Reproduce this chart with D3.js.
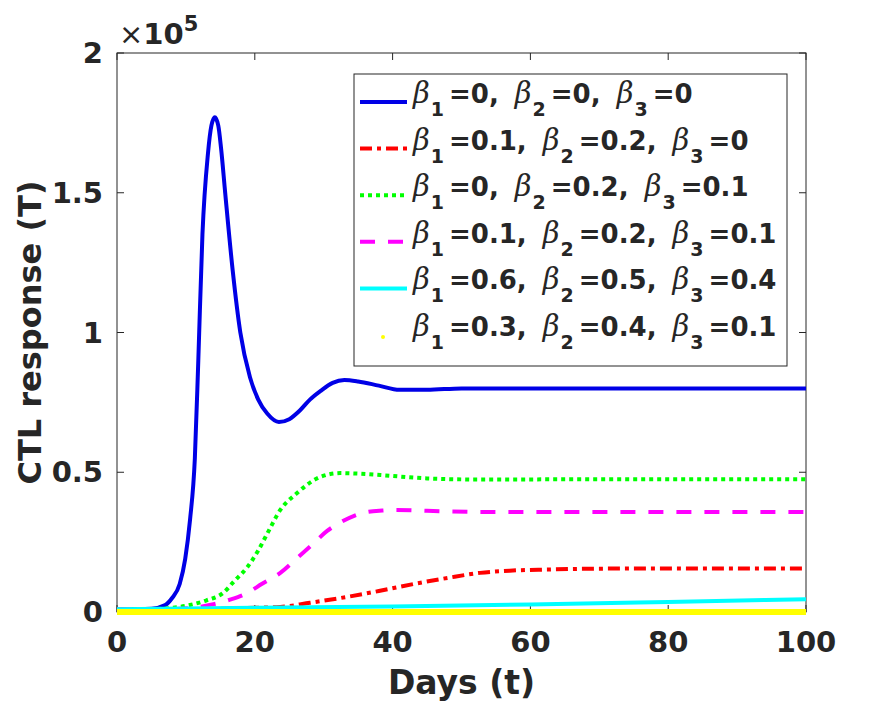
<!DOCTYPE html>
<html lang="en">
<head>
    <meta charset="UTF-8">
    <title>CTL response</title>
    <script src="https://d3js.org/d3.v7.min.js"></script>
    <style>
        body { margin: 0; background: #fff; }
        svg { display: block; }
        text { font-family: "DejaVu Sans", sans-serif; fill: #262626; }
    </style>
</head>
<body>
    <div id="chart"></div>
    <script>
        // series values are in units of 1e5
        const xTicks = [0, 20, 40, 60, 80, 100];
        const yTicks = [0, 0.5, 1, 1.5, 2];
        const yTickLabels = ['0', '0.5', '1', '1.5', '2'];

        const blueT = [0, 5, 7, 8, 9.1, 9.9, 10.6, 11.3, 11.8, 12.4, 13.2, 13.7, 14.2, 14.7, 15.1, 15.7, 16.8, 17.9, 19.3, 20.5, 21.8, 23.5, 25, 26.5, 28, 29.5, 31.3, 33, 35, 38, 41, 45, 50, 60, 80, 100];
        const blueV = [0.01, 0.012, 0.025, 0.05, 0.10, 0.19, 0.33, 0.55, 0.9, 1.35, 1.64, 1.74, 1.77, 1.74, 1.66, 1.5, 1.22, 1.0, 0.84, 0.76, 0.71, 0.68, 0.69, 0.72, 0.76, 0.79, 0.82, 0.83, 0.825, 0.81, 0.795, 0.795, 0.80, 0.80, 0.80, 0.80];

        const redT = [0, 10, 15, 20, 23.7, 28, 33.4, 38, 43, 48, 52.7, 57, 62.4, 70, 80, 100];
        const redV = [0.01, 0.01, 0.012, 0.015, 0.018, 0.033, 0.054, 0.075, 0.10, 0.122, 0.14, 0.148, 0.152, 0.155, 0.156, 0.156];

        const greenT = [0, 5, 8, 10.6, 13, 15.4, 17, 18.9, 20.5, 21.8, 23.7, 26.1, 29.5, 32.4, 35, 38.2, 45, 52.7, 70, 100];
        const greenV = [0.01, 0.01, 0.015, 0.025, 0.042, 0.068, 0.11, 0.16, 0.22, 0.28, 0.365, 0.425, 0.483, 0.497, 0.495, 0.49, 0.478, 0.474, 0.475, 0.475];

        const magentaT = [0, 8, 11, 14, 16.5, 18.9, 21, 23.7, 26, 28.5, 30.5, 32.4, 34.5, 36.3, 38.5, 40.6, 45, 52.7, 70, 100];
        const magentaV = [0.01, 0.01, 0.015, 0.028, 0.045, 0.068, 0.1, 0.14, 0.19, 0.245, 0.29, 0.32, 0.345, 0.358, 0.363, 0.365, 0.362, 0.358, 0.358, 0.358];

        const cyanT = [0, 20, 40, 60, 80, 100];
        const cyanV = [0.01, 0.015, 0.02, 0.027, 0.036, 0.046];

        const yellowT = [0, 25, 50, 75, 100];
        const yellowV = [0, 0, 0, 0, 0];

        const beta1 = ['0', '0.1', '0', '0.1', '0.6', '0.3'];
        const beta2 = ['0', '0.2', '0.2', '0.2', '0.5', '0.4'];
        const beta3 = ['0', '0', '0.1', '0.1', '0.4', '0.1'];

        const series = [
            { t: blueT, v: blueV, color: '#0000e6', dash: null },
            { t: redT, v: redV, color: '#ff0000', dash: '12,5,4,5' },
            { t: greenT, v: greenV, color: '#00ff00', dash: '4,4' },
            { t: magentaT, v: magentaV, color: '#ff00ff', dash: '15,13' },
            { t: cyanT, v: cyanV, color: '#00ffff', dash: null },
            { t: yellowT, v: yellowV, color: '#ffff00', dash: null, yellow: true }
        ];

        const W = 891, H = 703;
        const m = { left: 117, top: 53, right: 85, bottom: 91 };
        const iw = W - m.left - m.right;
        const ih = H - m.top - m.bottom;

        const svg = d3.select('#chart').append('svg')
            .attr('width', W)
            .attr('height', H);

        const x = d3.scaleLinear().domain([0, 100]).range([m.left, m.left + iw]);
        const y = d3.scaleLinear().domain([0, 2]).range([m.top + ih, m.top]);

        const axisColor = '#262626';
        const tickLen = 7;

        // box
        svg.append('rect')
            .attr('x', m.left).attr('y', m.top)
            .attr('width', iw).attr('height', ih)
            .attr('fill', 'none')
            .attr('stroke', axisColor)
            .attr('stroke-width', 1);

        // ticks (inside, on all four sides)
        xTicks.forEach(t => {
            svg.append('line').attr('x1', x(t)).attr('x2', x(t))
                .attr('y1', y(0)).attr('y2', y(0) - tickLen)
                .attr('stroke', axisColor);
            svg.append('line').attr('x1', x(t)).attr('x2', x(t))
                .attr('y1', y(2)).attr('y2', y(2) + tickLen)
                .attr('stroke', axisColor);
            svg.append('text')
                .attr('x', x(t)).attr('y', 652)
                .attr('text-anchor', 'middle')
                .attr('font-size', 29).attr('font-weight', 'bold')
                .text(t);
        });

        yTicks.forEach((t, i) => {
            svg.append('line').attr('x1', x(0)).attr('x2', x(0) + tickLen)
                .attr('y1', y(t)).attr('y2', y(t))
                .attr('stroke', axisColor);
            svg.append('line').attr('x1', x(100)).attr('x2', x(100) - tickLen)
                .attr('y1', y(t)).attr('y2', y(t))
                .attr('stroke', axisColor);
            svg.append('text')
                .attr('x', 103).attr('y', y(t) + 10)
                .attr('text-anchor', 'end')
                .attr('font-size', 29).attr('font-weight', 'bold')
                .text(yTickLabels[i]);
        });

        // exponent
        const ex = svg.append('text').attr('x', 119).attr('y', 44);
        ex.append('tspan').attr('font-size', 29).text('×');
        ex.append('tspan').attr('font-size', 29).attr('font-weight', 'bold').text('10');
        ex.append('tspan').attr('font-size', 21).attr('font-weight', 'bold').attr('y', 31).text('5');

        // axis labels
        svg.append('text')
            .attr('x', x(50)).attr('y', 694)
            .attr('text-anchor', 'middle')
            .attr('font-size', 33).attr('font-weight', 'bold')
            .text('Days (t)');

        svg.append('text')
            .attr('transform', `translate(41,${m.top + ih / 2}) rotate(-90)`)
            .attr('text-anchor', 'middle')
            .attr('font-size', 32).attr('font-weight', 'bold')
            .text('CTL response (T)');

        // curves
        const line = d3.line()
            .x(d => x(d[0]))
            .y(d => y(d[1]))
            .curve(d3.curveMonotoneX);

        series.forEach(s => {
            const pts = s.t.map((t, i) => [t, s.v[i]]);
            svg.append('path')
                .datum(pts)
                .attr('fill', 'none')
                .attr('stroke', s.color)
                .attr('stroke-width', s.yellow ? 6 : 4)
                .attr('stroke-dasharray', s.dash)
                .attr('d', line);
        });

        // legend
        const lg = { x: 354, y: 74, w: 433, h: 292 };
        svg.append('rect')
            .attr('x', lg.x).attr('y', lg.y)
            .attr('width', lg.w).attr('height', lg.h)
            .attr('fill', '#fff')
            .attr('stroke', axisColor)
            .attr('stroke-width', 1);

        const rowH = 46.6;
        series.forEach((s, i) => {
            const cy = 102 + i * rowH;
            if (s.yellow) {
                svg.append('circle')
                    .attr('cx', 383).attr('cy', cy + 2)
                    .attr('r', 2).attr('fill', s.color);
            } else {
                svg.append('line')
                    .attr('x1', 360).attr('x2', 407)
                    .attr('y1', cy).attr('y2', cy)
                    .attr('stroke', s.color)
                    .attr('stroke-width', 4)
                    .attr('stroke-dasharray', s.dash);
            }
            const base = cy + 1;
            const tx = svg.append('text')
                .attr('x', 413).attr('y', base)
                .attr('font-size', 26).attr('font-weight', 'bold');
            const vals = [beta1[i], beta2[i], beta3[i]];
            vals.forEach((v, k) => {
                if (k > 0) tx.append('tspan').attr('y', base).text(' ');
                tx.append('tspan')
                    .attr('y', base)
                    .attr('dx', k > 0 ? 7 : 0)
                    .attr('font-family', '"DejaVu Serif", serif')
                    .attr('font-size', 29)
                    .attr('font-style', 'italic').attr('font-weight', 'normal')
                    .text('β');
                tx.append('tspan').attr('y', base + 13).attr('dx', 1).attr('font-size', 19).text(k + 1);
                tx.append('tspan').attr('y', base).attr('dx', 5).text('=' + v + (k < 2 ? ',' : ''));
            });
        });
    </script>
</body>
</html>
